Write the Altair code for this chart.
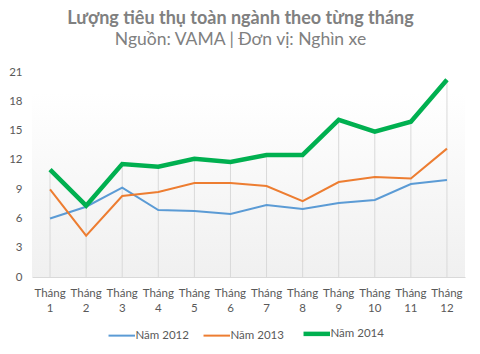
import altair as alt
import pandas as pd

months = list(range(1, 13))
y2012 = [6.0, 7.2, 9.15, 6.86, 6.76, 6.45, 7.38, 6.97, 7.58, 7.89, 9.53, 9.94]
y2013 = [8.98, 4.23, 8.3, 8.71, 9.63, 9.63, 9.32, 7.78, 9.73, 10.25, 10.08, 13.15]
y2014 = [11.0, 7.31, 11.58, 11.3, 12.12, 11.78, 12.5, 12.5, 16.1, 14.88, 15.9, 20.2]
series = ["Năm 2012", "Năm 2013", "Năm 2014"]
colors = ["#5B9BD5", "#ED7D31", "#00B050"]

rows = []
for name, vals in zip(series, [y2012, y2013, y2014]):
    for m, v in zip(months, vals):
        rows.append({"month": m, "value": v, "series": name})
df = pd.DataFrame(rows)
drop = pd.DataFrame({"month": months,
                     "top": [max(a, b, c) for a, b, c in zip(y2012, y2013, y2014)]})

W, H = 433, 205
FONT = "Lato"

xenc = alt.X("month:O", title=None,
             axis=alt.Axis(labelExpr="['Tháng', datum.label]", labelAngle=0,
                           labelFontSize=11.5, labelColor="#595959", labelFont=FONT,
                           labelOverlap=False, labelBound=False, ticks=False,
                           domainColor="#d9d9d9", labelPadding=10, labelLineHeight=15,
                           grid=False))
yscale = alt.Scale(domain=[0, 21])
yaxis = alt.Axis(values=[0, 3, 6, 9, 12, 15, 18, 21], grid=False, ticks=False,
                 domain=False, labelFontSize=11.5, labelColor="#595959",
                 labelFont=FONT, labelPadding=10, labelOverlap=False)

bg = alt.Chart(drop).mark_rect(
    color=alt.Gradient(gradient="linear", x1=0, x2=0, y1=0, y2=1,
                       stops=[alt.GradientStop(color="#ffffff", offset=0),
                              alt.GradientStop(color="#ffffff", offset=0.1),
                              alt.GradientStop(color="#f0f0f0", offset=1)])
).encode(x=alt.value(0), x2=alt.value(W), y=alt.value(0), y2=alt.value(H))

rules = alt.Chart(drop).mark_rule(color="#d9d9d9", strokeWidth=1).encode(
    x=xenc, y=alt.Y("top:Q", scale=yscale, title=None, axis=yaxis), y2=alt.datum(0))

legend = alt.Legend(title=None, orient="none", direction="horizontal",
                    legendX=84, legendY=256,
                    symbolType="stroke", symbolSize=700,
                    symbolStrokeWidth=alt.ExprRef("datum.value == 'Năm 2014' ? 4.5 : 2"),
                    labelFontSize=11.5, labelColor="#595959",
                    labelFont=FONT, columnPadding=10, labelOffset=8)
cenc = alt.Color("series:N", scale=alt.Scale(domain=series, range=colors), legend=legend)
yline = alt.Y("value:Q", scale=yscale, title=None, axis=yaxis)

thin = alt.Chart(df).transform_filter(alt.datum.series != "Năm 2014").mark_line(
    strokeWidth=2, strokeJoin="miter").encode(x=xenc, y=yline, color=cenc)
thick = alt.Chart(df).transform_filter(alt.datum.series == "Năm 2014").mark_line(
    strokeWidth=4.5, strokeJoin="miter").encode(x=xenc, y=yline, color=cenc)

chart = alt.layer(bg, rules, thin, thick).properties(
    width=W, height=H,
    title=alt.TitleParams(text="Lượng tiêu thụ toàn ngành theo từng tháng",
                          subtitle="Nguồn: VAMA | Đơn vị: Nghìn xe",
                          font=FONT, fontSize=18, fontWeight="bold", color="#808080",
                          subtitleFont=FONT, subtitleFontSize=17.5, subtitleColor="#808080",
                          subtitlePadding=3, anchor="middle", dx=-8, offset=18),
    autosize=alt.AutoSizeParams(type="none"),
    padding={"left": 32, "top": 72, "right": 15, "bottom": 77},
).configure_view(stroke=None)

chart.save("out.html", embed_options={"renderer": "svg", "actions": False})
